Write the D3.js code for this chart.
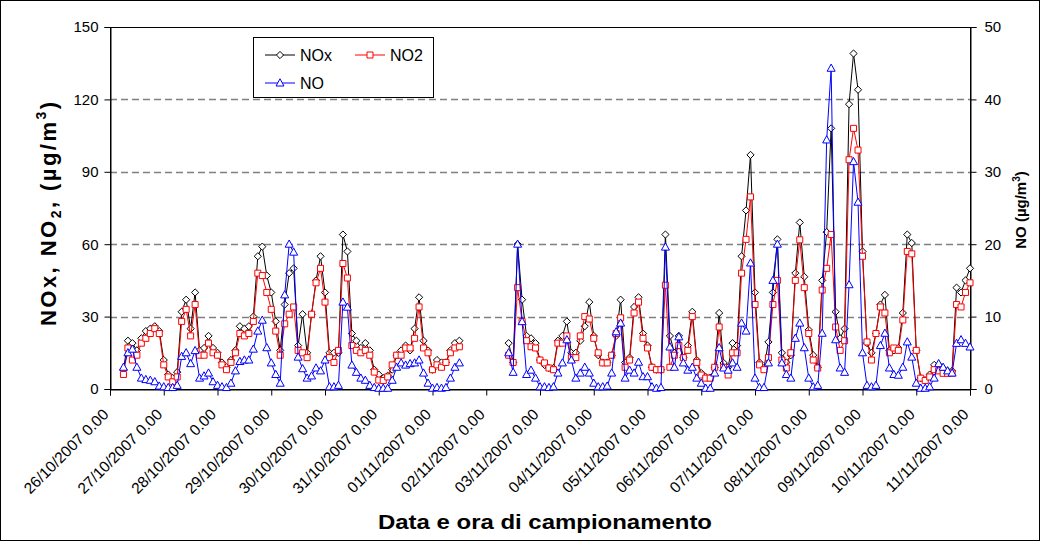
<!DOCTYPE html>
<html><head><meta charset="utf-8">
<script src="https://cdn.jsdelivr.net/npm/d3@7"></script>
<style>
body{margin:0;background:#fff}
svg{display:block}
text{font-family:"Liberation Sans",Arial,Helvetica,sans-serif;fill:#000}
</style>
</head><body>
<svg id="chart" width="1040" height="541"></svg>
<script>
// ---- DATA ----
const dayLabels = ["26/10/2007 0.00","27/10/2007 0.00","28/10/2007 0.00","29/10/2007 0.00",
  "30/10/2007 0.00","31/10/2007 0.00","01/11/2007 0.00","02/11/2007 0.00","03/11/2007 0.00",
  "04/11/2007 0.00","05/11/2007 0.00","06/11/2007 0.00","07/11/2007 0.00","08/11/2007 0.00",
  "09/11/2007 0.00","10/11/2007 0.00","11/11/2007 0.00"];
const leftTicks = [0,30,60,90,120,150];
const rightTicks = [0,10,20,30,40,50];
const stepHours = 2; // one reading every 2 hours, starting 26/10/2007 0.00
const seriesNames = ["NOx","NO2","NO"];

// NOx (µg/m3, left axis)
const NOx = [
  null,null,null,8,20,19,16,21,24,25,26,24,
  12,6,4.5,7,32,37,25,40,16,17,22,17,
  15,11,9,12,16,26,25,26,30,55,59,47,
  40,28,16,35,48,50,18,31,15,31,45,55,
  40,15,15,15,64,57,23,20,17,19,16,8,
  6,4.5,5.5,8,14,16,18,16,25,38,20,16,
  8,12,11,11,16,19,20,null,null,null,null,null,
  null,null,null,null,null,19,11,60,37,22,21,19,
  12,10,8.7,8.7,20,22,28,15,15,20,26,36,
  22,14,11,11,14,22,37,11,13,34,38,23,
  18,9,8,8,64,22,15,22,13,18,32,12,
  6.6,5,4.7,9,31.5,10.8,9,19,18,55,74,97,
  40,11,8.7,19.5,40,62,15,11,14,48,69,46.5,
  24.5,14,9,45,65,108,32,21,25,118,139,124,
  57,19,15,23,35,39,16,16,17,31.5,64,60.5,
  16,4.5,3.7,6,10,10,8.5,7.5,7.5,42,40,45,
  50];
// NO2 (µg/m3, left axis)
const NO2 = [
  null,null,null,6,17,12,14,19,21,23,25,23,
  10,5,3,5,28,33,22,35,14,14,19,15,
  14,10,8,11,15,23,22,23,28,48,47,40,
  33,24,14,27,31,34,16,15,13,31,44,50,
  36,13,11,16,52,46,18,16,15,16,14,7,
  3.7,3.5,5,10,14,14,17,17,21,34,17,15,
  8,10,9,11,15,17,17.5,null,null,null,null,null,
  null,null,null,null,null,14,11,42,28,20,17.5,17,
  12,10.8,8.7,8,19,19,22,13,13,22,30,29,
  21,15,10.8,10.8,14,23,29.5,9,12,31.5,36,21,
  17,9,8,8,43,9,14,18,13,16,30,11,
  5.8,4.5,4.5,9,25.7,9,5.8,15,15,48,62,79.6,
  35,10,8,13,35,45,12,8.7,15,45,61.8,42,
  23,12,8.7,41,50,64,25.7,16,20,95,108,99,
  55,19.5,12,23,34,31.5,15,17,16,28.6,57,56,
  16,4.5,3.5,5,8,7.5,6.5,6.5,6.6,35,34,40,
  44];
// NO (µg/m3, right axis)
const NO = [
  null,null,null,3,5,5.5,3,1.5,1.3,1.2,1,0.4,
  0.3,0.2,0.2,0.5,4.5,5,3.5,5.3,1.5,1.8,2.2,1,
  0.5,0.3,0.2,0.8,2.5,3.8,4,4,5.5,8,9.5,5.7,
  3.6,2,0.8,13,20,18.9,4.4,2.8,1.5,1.8,2.9,2.5,
  4,0.3,0.3,0.5,12,11.3,3.3,2.3,1.5,1.2,0.5,0.2,
  0.1,0.1,0.1,1.2,3,3.6,3.3,3.5,3.6,4,2.2,0.8,
  0.1,0.2,0.1,0.2,1.5,3,3.6,null,null,null,null,null,
  null,null,null,null,null,5,2.3,20,9.3,2,2.6,1.5,
  0.3,0.3,0.2,0.3,2.2,3.6,6.8,4,1.5,2.2,3,2.2,
  0.8,0.3,0.3,0.4,2.2,7.9,9.1,1.5,2.6,2.2,3.7,1.7,
  1.7,0.3,0.1,0.2,19.6,5.8,3,7.2,3.6,2.6,3,1.5,
  0.8,0.1,0.1,2.2,5.7,2.9,2.6,3.6,3,9.1,8,17.4,
  1.5,0.2,0.2,3.6,15,20,3.6,2,1.5,7,9.1,5.7,
  1.5,0.3,0.5,7.7,34.4,44.3,6.8,2.9,2.3,14.4,31.4,25.8,
  5,0.5,0.3,0.5,6,7.7,2.9,2,1.9,3,6.5,4.4,
  0.8,0.1,0.1,0.3,1.5,3.5,3,2.5,2.2,6.3,6.8,6.3,
  5.8];

// ---- LAYOUT ----
const W = 1040, H = 541;
const L = 110, R = 970, T = 27, B = 389;
const svg = d3.select("#chart");

const x = d3.scaleLinear().domain([0, dayLabels.length - 1]).range([L, R]);
const yL = d3.scaleLinear().domain([0, 150]).range([B, T]);
const yR = d3.scaleLinear().domain([0, 50]).range([B, T]);
const tDay = i => i * stepHours / 24;

// outer border
svg.append("rect").attr("x",0.5).attr("y",0.5).attr("width",W-1).attr("height",H-1)
  .attr("fill","#fff").attr("stroke","#000").attr("stroke-width",1);

// gridlines
svg.append("g").selectAll("line").data(leftTicks.filter(v => v > 0 && v < 150)).join("line")
  .attr("x1", L).attr("x2", R).attr("y1", d => Math.round(yL(d)) + 0.5).attr("y2", d => Math.round(yL(d)) + 0.5)
  .attr("stroke", "#808080").attr("stroke-width", 1.3).attr("stroke-dasharray", "7,4");

// plot border
svg.append("rect").attr("x", L + 0.5).attr("y", T + 0.5).attr("width", R - L).attr("height", B - T)
  .attr("fill", "none").attr("stroke", "#000").attr("stroke-width", 1);

// axes
const axL = svg.append("g").attr("transform", `translate(${L + 0.5},0)`)
  .call(d3.axisLeft(yL).tickValues(leftTicks).tickSize(6).tickPadding(6));
const axR = svg.append("g").attr("transform", `translate(${R + 0.5},0)`)
  .call(d3.axisRight(yR).tickValues(rightTicks).tickSize(6).tickPadding(8));
const axB = svg.append("g").attr("transform", `translate(0,${B + 0.5})`)
  .call(d3.axisBottom(x).tickValues(d3.range(dayLabels.length)).tickFormat(i => dayLabels[i]).tickSize(6));
[axL, axR, axB].forEach(g => {
  g.select(".domain").attr("stroke", "#000");
  g.selectAll(".tick line").attr("stroke", "#000");
  g.selectAll("text").attr("font-size", 15).attr("fill", "#000")
    .attr("font-family", '"Liberation Sans",Arial,sans-serif');
});
axB.selectAll(".tick text")
  .attr("font-size", 15.5)
  .attr("text-anchor", "end").attr("dy", null).attr("y", 0)
  .attr("transform", "translate(-1,26) rotate(-45)");

// series
const shapes = {
  diamond: "M0,-3.6L3.6,0L0,3.6L-3.6,0Z",
  square: "M-3,-3H3V3H-3Z",
  triangle: "M0,-4.2L4,3L-4,3Z"
};
const series = [
  {name: seriesNames[0], data: NOx, y: yL, color: "#000000", shape: shapes.diamond},
  {name: seriesNames[1], data: NO2, y: yL, color: "#ff0000", shape: shapes.square},
  {name: seriesNames[2], data: NO, y: yR, color: "#0000ff", shape: shapes.triangle}
];
const plot = svg.append("g");
series.forEach(s => {
  const pts = s.data.map((v, i) => ({t: tDay(i), v}));
  const line = d3.line().defined(d => d.v != null).x(d => x(d.t)).y(d => s.y(d.v));
  const g = plot.append("g");
  g.append("path").datum(pts).attr("d", line).attr("fill", "none")
    .attr("stroke", s.color).attr("stroke-width", 1);
  g.selectAll("path.m").data(pts.filter(d => d.v != null)).join("path").attr("class", "m")
    .attr("d", s.shape)
    .attr("transform", d => `translate(${x(d.t)},${s.y(d.v)})`)
    .attr("fill", "#fff").attr("stroke", s.color).attr("stroke-width", 1);
});

// axis titles
svg.append("text").attr("x", 378).attr("y", 529)
  .attr("font-size", 20).attr("font-weight", "bold")
  .attr("textLength", 334).attr("lengthAdjust", "spacingAndGlyphs")
  .text("Data e ora di campionamento");

const lt = svg.append("text").attr("transform", "translate(56,326) rotate(-90)")
  .attr("text-anchor", "start").attr("font-size", 22).attr("font-weight", "bold")
  .attr("textLength", 224).attr("lengthAdjust", "spacing");
lt.append("tspan").text("NOx,  NO");
lt.append("tspan").attr("font-size", 14).attr("dy", 5).text("2");
lt.append("tspan").attr("dy", -5).text(",  (µg/m");
lt.append("tspan").attr("font-size", 14).attr("dy", -10).text("3");
lt.append("tspan").attr("dy", 10).text(")");

const rt = svg.append("text").attr("transform", "translate(1026,210) rotate(-90)")
  .attr("text-anchor", "middle").attr("font-size", 15).attr("font-weight", "bold");
rt.append("tspan").text("NO (µg/m");
rt.append("tspan").attr("font-size", 10).attr("dy", -6).text("3");
rt.append("tspan").attr("dy", 6).text(")");

// legend
const lg = svg.append("g");
lg.append("rect").attr("x", 253.5).attr("y", 37.5).attr("width", 180).attr("height", 60)
  .attr("fill", "#fff").attr("stroke", "#000").attr("stroke-width", 1);
const legPos = [{x: 265, y: 55}, {x: 355, y: 55}, {x: 265, y: 83}];
series.forEach((s, i) => {
  const p = legPos[i];
  lg.append("line").attr("x1", p.x).attr("x2", p.x + 30).attr("y1", p.y).attr("y2", p.y)
    .attr("stroke", s.color).attr("stroke-width", 1);
  lg.append("path").attr("d", s.shape).attr("transform", `translate(${p.x + 15},${p.y})`)
    .attr("fill", "#fff").attr("stroke", s.color);
  lg.append("text").attr("x", p.x + 35).attr("y", p.y + 6).attr("font-size", 16).text(s.name);
});
</script>
</body></html>
